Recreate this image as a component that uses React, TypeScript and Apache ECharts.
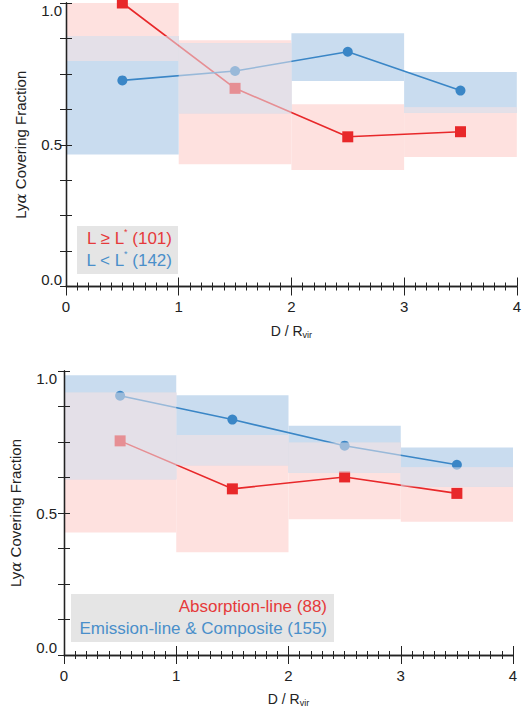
import React, { useEffect, useRef } from "react";
import * as echarts from "echarts";

const binEdges = [0, 1, 2, 3, 4];
const xCenters = [0.5, 1.5, 2.5, 3.5];

const topRed = [1.0, 0.699, 0.528, 0.546];
const topRedLo = [0.795, 0.431, 0.411, 0.457];
const topRedHi = [1.0, 0.869, 0.643, 0.632];
const topBlue = [0.727, 0.76, 0.828, 0.691];
const topBlueLo = [0.466, 0.611, 0.725, 0.613];
const topBlueHi = [0.884, 0.858, 0.893, 0.757];

const botRed = [0.754, 0.585, 0.627, 0.569];
const botRedLo = [0.431, 0.362, 0.478, 0.469];
const botRedHi = [0.924, 0.775, 0.748, 0.661];
const botBlue = [0.913, 0.829, 0.737, 0.67];
const botBlueLo = [0.619, 0.668, 0.642, 0.593];
const botBlueHi = [0.985, 0.915, 0.807, 0.731];

const yTickLabels = ["0.0", "0.5", "1.0"];
const xTickLabels = ["0", "1", "2", "3", "4"];

const FONT = "'Liberation Sans', Arial, Helvetica, sans-serif";
const RED = "#e8282a";
const BLUE = "#3a86c6";
const PINK = "#fee1df";
const LBLUE = "#c9dcef";
const GRAY = "#e4e0e8";

function bands(lo: number[], hi: number[]) {
  return lo.map((l, i) => [binEdges[i], binEdges[i + 1], l, hi[i]]);
}
function overlap(rl: number[], rh: number[], bl: number[], bh: number[]) {
  const out: number[][] = [];
  rl.forEach((_, i) => {
    const l = Math.max(rl[i], bl[i]);
    const h = Math.min(rh[i], bh[i]);
    if (h > l) out.push([binEdges[i], binEdges[i + 1], l, h]);
  });
  return out;
}

function rectSeries(gi: number, data: number[][], fill: string, z: number) {
  return {
    type: "custom",
    xAxisIndex: gi * 2,
    yAxisIndex: gi * 2,
    z,
    silent: true,
    encode: { x: [0, 1], y: [2, 3] },
    data,
    renderItem: (params: any, api: any) => {
      const p0 = api.coord([api.value(0), api.value(3)]);
      const p1 = api.coord([api.value(1), api.value(2)]);
      return {
        type: "rect",
        shape: { x: p0[0], y: p0[1], width: p1[0] - p0[0], height: p1[1] - p0[1] },
        style: { fill },
      };
    },
  };
}

function lineSeries(gi: number, vals: number[], color: string, symbol: string, size: number) {
  return {
    type: "line",
    xAxisIndex: gi * 2,
    yAxisIndex: gi * 2,
    z: 3,
    data: xCenters.map((x, i) => [x, vals[i]]),
    symbol,
    symbolSize: size,
    lineStyle: { color, width: 1.6 },
    itemStyle: { color },
  };
}

function axesFor(gi: number, xGap: number, xLabelMargin: number, yGap: number, yLabelMargin: number) {
  const xBase = {
    type: "value",
    gridIndex: gi,
    min: 0,
    max: 4,
    interval: 1,
    z: 10,
    splitLine: { show: false },
    axisLine: { show: true, lineStyle: { color: "#222", width: 1.3 } },
    axisTick: { show: true, inside: true, length: 9, lineStyle: { color: "#222" } },
    minorTick: { show: true, splitNumber: 10, length: 4, lineStyle: { color: "#222" } },
  };
  const yBase = {
    type: "value",
    gridIndex: gi,
    min: 0,
    max: 1,
    interval: 0.125,
    z: 10,
    splitLine: { show: false },
    axisLine: { show: true, lineStyle: { color: "#222", width: 1.3 } },
    axisTick: { show: true, inside: true, length: 6, lineStyle: { color: "#222" } },
  };
  const xAxes = [
    {
      ...xBase,
      position: "bottom",
      axisLabel: {
        show: true,
        margin: xLabelMargin,
        fontSize: 15,
        color: "#222",
        fontFamily: FONT,
        formatter: (v: number) => xTickLabels[Math.round(v)] ?? "",
      },
      name: "{n|D / R}{s|vir}",
      nameLocation: "middle",
      nameGap: xGap,
      nameTextStyle: {
        rich: {
          n: { fontSize: 14, color: "#222", fontFamily: FONT },
          s: { fontSize: 9, color: "#222", fontFamily: FONT, padding: [8, 0, 0, 0] },
        },
      },
    },
    { ...xBase, position: "top", axisLabel: { show: false } },
  ];
  const yAxes = [
    {
      ...yBase,
      position: "left",
      axisLabel: {
        show: true,
        margin: yLabelMargin,
        fontSize: 15,
        color: "#222",
        fontFamily: FONT,
        verticalAlignMaxLabel: "top",
        verticalAlignMinLabel: "bottom",
        formatter: (v: number) => {
          const k = Math.round(v * 2);
          return Math.abs(v * 2 - k) < 1e-6 ? yTickLabels[k] : "";
        },
      },
      name: "{n|Ly}{a|α}{n| Covering Fraction}",
      nameLocation: "middle",
      nameGap: yGap,
      nameRotate: 90,
      nameTextStyle: {
        rich: {
          n: { fontSize: 15, color: "#222", fontFamily: FONT },
          a: { fontSize: 15, color: "#222", fontFamily: "'DejaVu Serif', serif", fontStyle: "italic" },
        },
      },
    },
    { ...yBase, position: "right", axisLabel: { show: false } },
  ];
  return { xAxes, yAxes };
}

function panelSeries(
  gi: number,
  red: number[], rl: number[], rh: number[],
  blue: number[], bl: number[], bh: number[]
) {
  const ov = overlap(rl, rh, bl, bh);
  return [
    rectSeries(gi, bands(rl, rh), PINK, 1),
    rectSeries(gi, bands(bl, bh), LBLUE, 1),
    rectSeries(gi, ov, GRAY, 1),
    lineSeries(gi, red, RED, "rect", 11),
    lineSeries(gi, blue, BLUE, "circle", 10),
    rectSeries(gi, ov, "rgba(228,224,232,0.56)", 5),
  ];
}

export default function App() {
  const ref = useRef<HTMLDivElement>(null);
  useEffect(() => {
    document.body.style.margin = "0";
    const chart = echarts.init(ref.current!, null, { renderer: "svg" });
    const a0 = axesFor(0, 36, 12, 38, 4);
    const a1 = axesFor(1, 35, 13, 41, 7);
    const RC = "#e53a3b";
    const BC = "#4a8fca";
    const legendRich = {
      r: { fontSize: 17, fill: RC, color: RC, fontFamily: FONT, lineHeight: 22 },
      rs: { fontSize: 9, fill: RC, color: RC, fontFamily: FONT, verticalAlign: "top", lineHeight: 22 },
      b: { fontSize: 17, fill: BC, color: BC, fontFamily: FONT, lineHeight: 22 },
      bs: { fontSize: 9, fill: BC, color: BC, fontFamily: FONT, verticalAlign: "top", lineHeight: 22 },
    };
    chart.setOption({
      animation: false,
      backgroundColor: "#ffffff",
      grid: [
        { left: 66, top: 3, width: 453, height: 283.5 },
        { left: 61, top: 371, width: 452, height: 284 },
      ],
      xAxis: [...a0.xAxes, ...a1.xAxes],
      yAxis: [...a0.yAxes, ...a1.yAxes],
      series: [
        ...panelSeries(0, topRed, topRedLo, topRedHi, topBlue, topBlueLo, topBlueHi),
        ...panelSeries(1, botRed, botRedLo, botRedHi, botBlue, botBlueLo, botBlueHi),
      ],
      graphic: [
        { type: "rect", z: 20, shape: { x: 77, y: 226, width: 101, height: 48 }, style: { fill: "#e5e5e5" } },
        {
          type: "text", z: 21, x: 172, y: 238,
          style: { text: "{r|L ≥ L}{rs|*}{r| (101)}", fill: RC, rich: legendRich, align: "right", verticalAlign: "middle" },
        },
        {
          type: "text", z: 21, x: 172, y: 260,
          style: { text: "{b|L < L}{bs|*}{b| (142)}", fill: BC, rich: legendRich, align: "right", verticalAlign: "middle" },
        },
        { type: "rect", z: 20, shape: { x: 71, y: 594, width: 263, height: 48 }, style: { fill: "#e5e5e5" } },
        {
          type: "text", z: 21, x: 327, y: 606,
          style: { text: "{r|Absorption-line (88)}", fill: RC, rich: legendRich, align: "right", verticalAlign: "middle" },
        },
        {
          type: "text", z: 21, x: 327, y: 628,
          style: { text: "{b|Emission-line & Composite (155)}", fill: BC, rich: legendRich, align: "right", verticalAlign: "middle" },
        },
      ],
    });
    return () => chart.dispose();
  }, []);
  return <div ref={ref} style={{ width: 524, height: 713 }} />;
}
